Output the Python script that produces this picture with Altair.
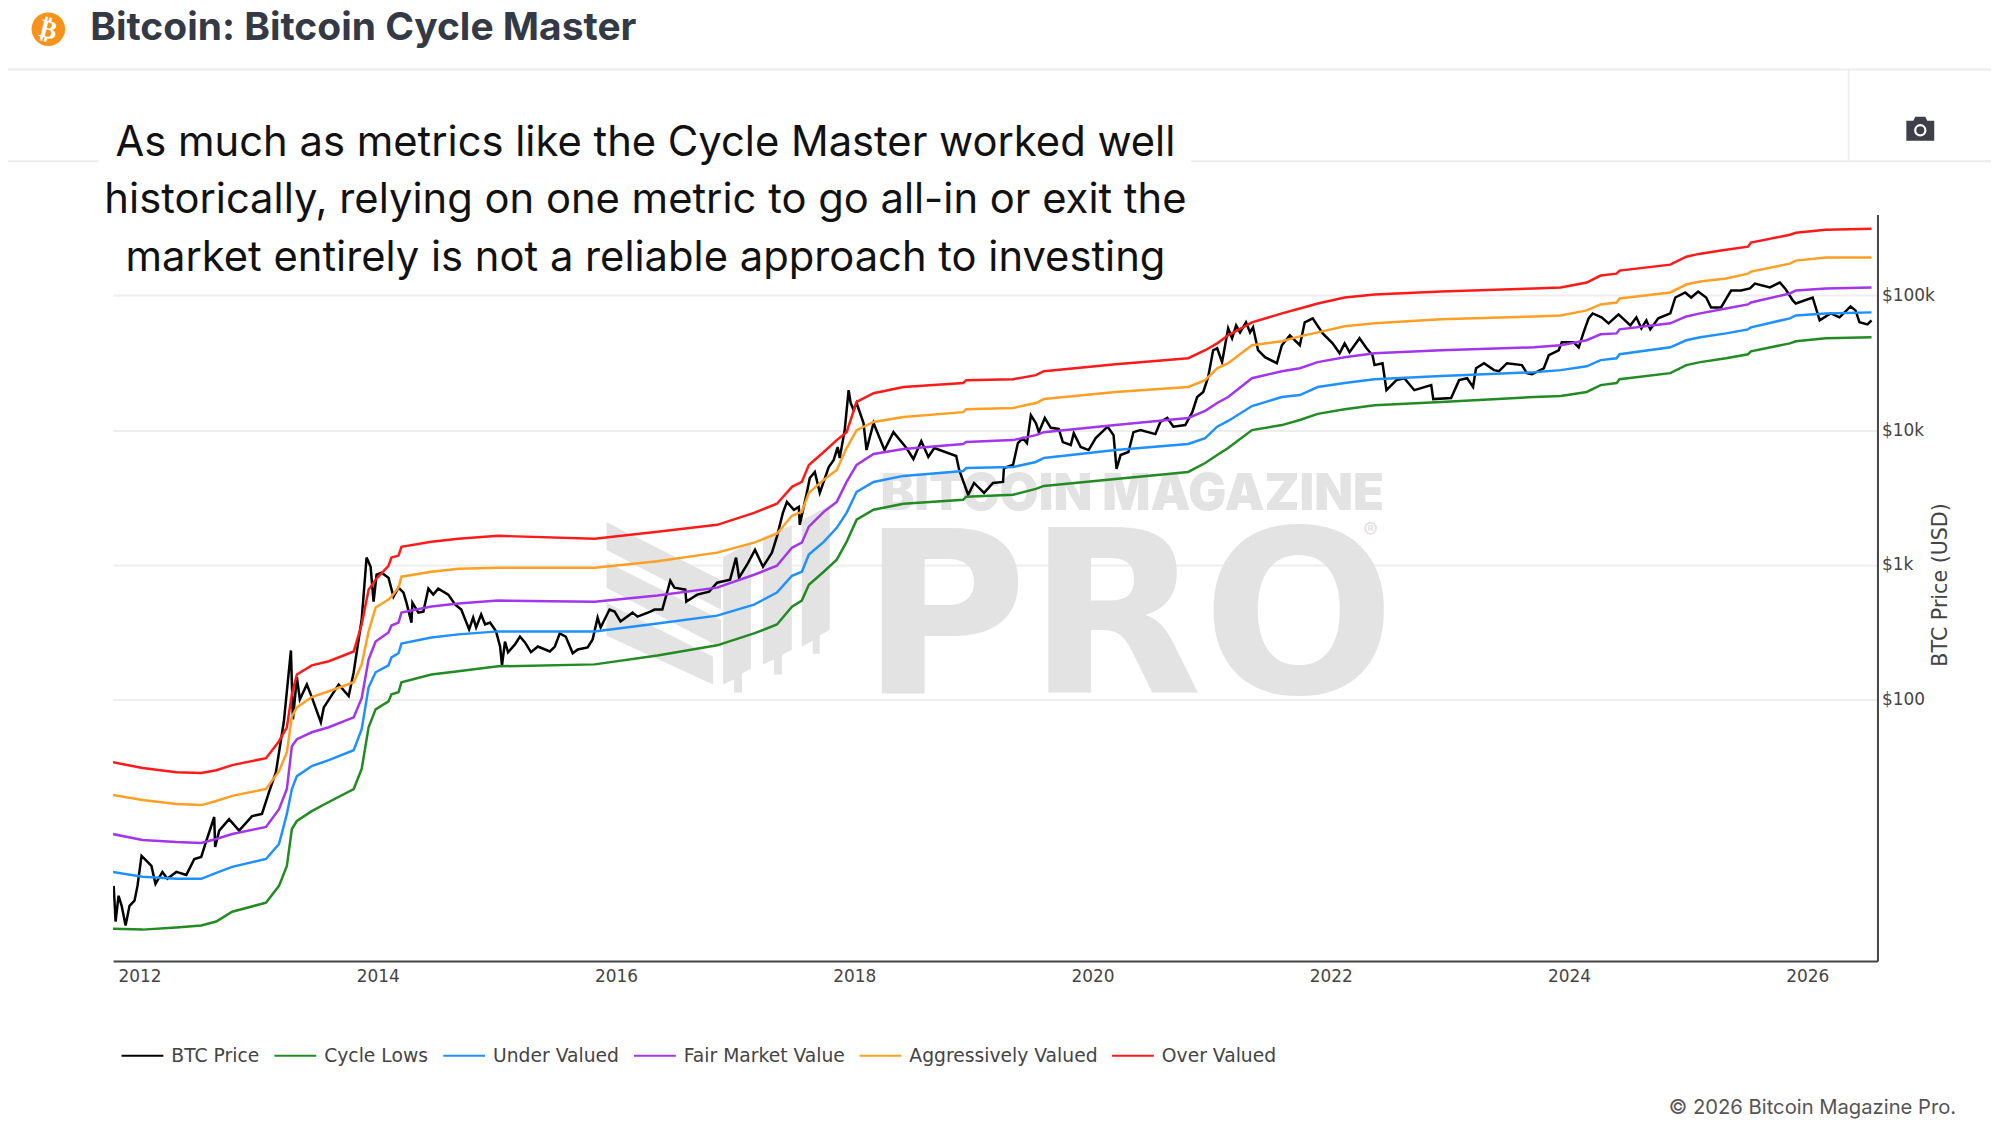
import altair as alt
import pandas as pd

# ---- chart data ----
band_year = [2011.774,2012.025,2012.309,2012.518,2012.644,2012.778,2013.062,2013.171,2013.237,2013.279,
             2013.321,2013.446,2013.589,2013.798,2013.865,2013.923,2013.982,2014.09,2014.115,2014.174,
             2014.199,2014.45,2014.676,2015.01,2015.821,2016.348,2016.849,2017.159,2017.351,2017.477,
             2017.56,2017.619,2017.744,2017.853,2017.936,2018.02,2018.162,2018.413,2018.915,2018.94,
             2019.333,2019.525,2019.592,2020.194,2020.804,2020.946,2021.047,2021.139,2021.339,2021.59,
             2021.741,2021.891,2022.117,2022.368,2022.928,2023.706,2023.931,2024.149,2024.266,2024.4,
             2024.425,2024.851,2024.985,2025.102,2025.319,2025.503,2025.528,2025.855,2025.905,2026.156,
             2026.54]
over_valued = [34.2,30.9,28.8,28.4,29.8,32.5,36.6,48.9,62.1,109,
               153,179,192,227,360,653,775,983,1130,1170,
               1360,1480,1560,1640,1560,1760,1980,2430,2840,3790,
               4120,5510,6880,8430,9660,16200,18800,20900,22400,23500,
               23900,25600,27400,30900,34200,39200,44100,50600,63200,73600,
               80100,87200,96600,101700,107000,112700,114700,124800,140600,145300,
               153100,169500,194200,204500,218800,230400,246900,282500,292400,307700,
               312500]
aggressively_valued = [19.5,17.9,16.7,16.4,17.6,19.2,21.6,29.3,40.5,74.9,
                       87.2,104,115,134,182,320,481,551,580,676,
                       815,887,934,950,950,1060,1230,1460,1700,2310,
                       2470,3420,4270,5060,7360,10000,11500,12500,13600,14300,
                       14600,15900,17000,19200,20900,23500,28800,31400,42700,45700,
                       49700,53200,59000,62100,66500,69900,71100,77500,85800,88700,
                       95000,105300,120600,126900,133500,145300,150400,172400,181500,191200,
                       191200]
fair_market_value = [10.0,9.03,8.72,8.58,9.18,10.0,11.3,15.3,21.6,44.9,
                     50.6,57.0,62.1,73.6,102,198,269,314,354,372,
                     441,489,515,542,532,590,676,843,983,1340,
                     1460,1920,2470,2930,4120,5510,6650,7240,7880,8150,
                     8430,9180,9660,10900,12300,13900,15900,17600,24300,27400,
                     28800,32000,34800,37200,39200,41200,42700,46500,51500,52300,
                     56000,62100,69900,73600,80100,85800,88700,103500,108900,112700,
                     114700]
under_valued = [5.23,4.81,4.65,4.65,5.15,5.70,6.53,8.43,14.1,21.6,
                26.9,32.0,35.4,41.9,60.0,123,159,179,205,220,
                260,288,304,320,320,366,419,506,621,829,
                887,1190,1480,1880,2430,3480,4120,4570,4970,5230,
                5320,5800,6210,7110,7880,8720,10600,11700,15100,17600,
                18200,20900,22400,23900,25200,26900,27900,29800,33100,34200,
                36600,41200,46500,48900,52300,56000,58000,67600,71100,73600,
                74900]
cycle_lows = [1.98,1.95,2.02,2.09,2.24,2.65,3.09,4.12,5.80,10.9,
              12.5,14.8,17.3,21.6,30.4,62.1,84.3,96.6,109,113,
              134,153,162,176,182,212,252,309,360,489,
              542,711,887,1090,1480,2160,2560,2840,3040,3200,
              3310,3660,3850,4340,4890,5700,6530,7360,10000,10900,
              11900,13200,14300,15300,16200,17600,17900,19200,21600,22400,
              23900,26500,30400,32000,34200,36600,38500,44100,45700,48100,
              48900]

price_year = [2011.783,2011.799,2011.824,2011.85,2011.883,2011.916,2011.958,2011.983,2012.017,2012.059,
              2012.1,2012.134,2012.192,2012.234,2012.309,2012.393,2012.46,2012.518,2012.56,2012.594,
              2012.627,2012.635,2012.669,2012.752,2012.836,2012.945,2013.028,2013.087,2013.145,2013.212,
              2013.271,2013.288,2013.321,2013.346,2013.405,2013.446,2013.522,2013.547,2013.672,2013.756,
              2013.798,2013.814,2013.865,2013.906,2013.94,2013.965,2013.99,2014.032,2014.09,2014.132,
              2014.174,2014.216,2014.241,2014.283,2014.291,2014.341,2014.383,2014.425,2014.466,2014.508,
              2014.592,2014.65,2014.701,2014.767,2014.801,2014.826,2014.868,2014.901,2014.943,2014.993,
              2015.027,2015.043,2015.068,2015.094,2015.152,2015.194,2015.236,2015.286,2015.344,2015.445,
              2015.487,2015.528,2015.578,2015.637,2015.679,2015.762,2015.804,2015.846,2015.871,2015.946,
              2015.988,2016.038,2016.139,2016.18,2016.289,2016.323,2016.389,2016.456,2016.49,2016.582,
              2016.59,2016.682,2016.782,2016.849,2016.958,2017.008,2017.033,2017.1,2017.167,2017.234,
              2017.309,2017.351,2017.401,2017.435,2017.493,2017.535,2017.543,2017.602,2017.627,2017.669,
              2017.711,2017.786,2017.828,2017.861,2017.878,2017.92,2017.953,2017.97,2017.995,2018.02,
              2018.078,2018.103,2018.162,2018.254,2018.329,2018.438,2018.497,2018.563,2018.622,2018.672,
              2018.856,2018.881,2018.956,2019.006,2019.09,2019.165,2019.249,2019.257,2019.333,2019.374,
              2019.416,2019.45,2019.483,2019.525,2019.55,2019.6,2019.65,2019.717,2019.751,2019.818,
              2019.843,2019.901,2019.968,2020.027,2020.127,2020.177,2020.202,2020.236,2020.302,2020.344,
              2020.403,2020.528,2020.57,2020.628,2020.679,2020.779,2020.838,2020.879,2020.93,2020.971,
              2021.013,2021.047,2021.088,2021.139,2021.172,2021.206,2021.239,2021.289,2021.323,2021.348,
              2021.39,2021.448,2021.548,2021.59,2021.657,2021.741,2021.782,2021.849,2021.933,2022.016,
              2022.075,2022.117,2022.158,2022.242,2022.301,2022.351,2022.368,2022.435,2022.468,2022.552,
              2022.618,2022.702,2022.844,2022.861,2023.011,2023.078,2023.145,2023.195,2023.22,2023.287,
              2023.371,2023.413,2023.48,2023.605,2023.647,2023.689,2023.789,2023.831,2023.914,2023.94,
              2024.04,2024.082,2024.123,2024.165,2024.199,2024.274,2024.333,2024.416,2024.516,2024.566,
              2024.608,2024.65,2024.683,2024.75,2024.851,2024.893,2024.976,2025.026,2025.085,2025.152,
              2025.193,2025.277,2025.361,2025.444,2025.52,2025.561,2025.687,2025.771,2025.821,2025.879,
              2025.904,2026.046,2026.105,2026.197,2026.272,2026.364,2026.406,2026.439,2026.506,2026.54]
price_usd = [4.12,2.24,3.48,2.93,2.09,2.93,3.20,4.12,6.88,6.32,
             5.80,4.27,5.23,4.65,5.23,4.97,6.53,6.76,8.87,10.9,
             13.4,8.01,10.6,12.9,10.6,13.6,14.1,20.5,28.8,68.8,
             231,71.1,146,100,129,104,67.6,87.2,129,106,
             159,198,392,1130,966,532,843,872,801,580,
             676,621,523,372,523,441,449,665,600,665,
             600,506,465,331,405,342,427,360,372,320,
             247,179,269,224,256,293,265,224,247,227,
             247,309,293,220,235,243,279,405,342,465,
             449,379,441,412,449,465,465,761,676,653,
             532,600,632,736,775,1130,801,1000,1290,966,
             1230,1620,2430,2930,2560,2690,1980,3420,4410,4890,
             3420,5320,6000,7490,6210,10000,19800,15900,14100,15900,
             11300,7110,11300,7110,9660,7360,6100,8290,6320,7360,
             6420,5060,3310,4050,3420,4050,4120,5230,5510,8010,
             8720,8010,12900,11300,9660,12300,10400,10200,8150,7750,
             9500,7490,7110,8720,10600,9180,5150,6530,6880,9660,
             10000,9340,11500,12300,10600,10900,13600,17600,19200,24700,
             39200,40500,32000,57000,48100,60000,53200,63200,53200,58000,
             39200,34800,31400,42700,50600,42700,63200,67600,52300,44100,
             37200,44100,37900,48100,40500,36000,30400,31400,19800,23500,
             24300,19800,21600,17000,17300,23500,24300,20900,28800,31400,
             27900,27400,31400,30400,26500,26000,28800,36000,39200,44900,
             44900,41200,53200,67600,73600,68800,62100,72400,60000,68800,
             57000,65300,56000,67600,73600,96600,105300,96600,107000,96600,
             81500,81500,108900,108900,112700,122700,114700,124800,110700,91800,
             87200,96600,65300,73600,68800,82900,77500,63200,61000,65300]

series_names = ["BTC Price", "Cycle Lows", "Under Valued", "Fair Market Value", "Aggressively Valued", "Over Valued"]
series_colors = ["#000000", "#228b22", "#1e90ff", "#a335ea", "#ff9f24", "#ff1a1a"]
year_ticks = [2012, 2014, 2016, 2018, 2020, 2022, 2024, 2026]
price_ticks = [100, 1000, 10000, 100000]

FONT = "DejaVu Sans"
UI = "Inter"
WM = "#e3e3e3"
LEFT, TOP, W, H = 113.5, 213.0, 1771.5, 749.6

frames = [pd.DataFrame({"year": price_year, "usd": price_usd, "series": "BTC Price"})]
for name, vals in [("Cycle Lows", cycle_lows), ("Under Valued", under_valued),
                   ("Fair Market Value", fair_market_value),
                   ("Aggressively Valued", aggressively_valued), ("Over Valued", over_valued)]:
    frames.append(pd.DataFrame({"year": band_year, "usd": vals, "series": name}))
df = pd.concat(frames, ignore_index=True)


def px(v):
    return v - LEFT


def py(v):
    return v - TOP


def label(text, X, Y, size, font=UI, color="#111111", weight="normal", align="left", baseline="middle", angle=0):
    return alt.Chart(alt.InlineData(values=[{}])).mark_text(
        text=text, font=font, fontSize=size, color=color, fontWeight=weight,
        align=align, baseline=baseline, angle=angle).encode(x=alt.value(px(X)), y=alt.value(py(Y)))


def hline(X1, X2, Y, color="#ececec", width=2):
    return alt.Chart(alt.InlineData(values=[{}])).mark_rule(color=color, strokeWidth=width).encode(
        x=alt.value(px(X1)), x2=alt.value(px(X2)), y=alt.value(py(Y)))


def vline(X, Y1, Y2, color="#ececec", width=1.5):
    return alt.Chart(alt.InlineData(values=[{}])).mark_rule(color=color, strokeWidth=width).encode(
        x=alt.value(px(X)), y=alt.value(py(Y1)), y2=alt.value(py(Y2)))


def shape(points, color):
    d = "M" + "L".join(f"{a - LEFT:.1f},{b - TOP:.1f}" for a, b in points) + "Z"
    return alt.Chart(alt.InlineData(values=[{}])).mark_point(
        shape=d, size=4, filled=True, fill=color, stroke=None, strokeWidth=0, opacity=1
    ).encode(x=alt.value(0), y=alt.value(0))


def dot(X, Y, r, color):
    return alt.Chart(alt.InlineData(values=[{}])).mark_point(
        shape="circle", size=3.14159 * r * r, filled=True, fill=color, strokeWidth=0, opacity=1
    ).encode(x=alt.value(px(X)), y=alt.value(py(Y)))


logo_polys = [
    [(609, 522), (724, 580), (724, 610), (609, 550)],
    [(609, 562), (724, 620), (724, 648), (609, 588)],
    [(609, 603), (716, 657), (716, 685), (609, 636)],
    [(726, 557), (754, 542), (754, 669), (745, 674), (745, 693), (737, 693), (737, 680), (726, 685)],
    [(766, 537), (795, 525), (795, 650), (785, 655), (785, 675), (777, 675), (777, 660), (766, 665)],
    [(805, 520), (833, 505), (833, 630), (823, 636), (823, 654), (816, 654), (816, 641), (805, 647)],
]
camera = [(1914, 119), (1921, 119), (1923, 115), (1933, 115), (1935, 119), (1942, 119),
          (1942, 139), (1914, 139)]

chrome = [
    hline(LEFT - 8 - 106, 2000, 67.5),
    hline(LEFT - 8 - 106, 99, 159.5),
    hline(1196, 2000, 159.5),
    vline(1856, 67.5, 159.5),
]
chrome += [shape(p, WM) for p in logo_polys]
chrome += [
    label("BITCOIN MAGAZINE", 884, 510, 50.7, weight=900, color=WM, baseline="alphabetic"),
    label("PRO", 864.5, 693.7, 228, font=FONT, weight="bold", color=WM, baseline="alphabetic"),
    label("®", 1376, 531, 22, color=WM, align="center", weight=700),
]
chrome += [
    dot(48.5, 27, 19, "#f7931a"),
    label("₿", 48.5, 28, 26, font=FONT, color="#ffffff", weight="bold", align="center", angle=14),
    label("Bitcoin: Bitcoin Cycle Master", 90.5, 26, 39.1, weight=700, color="#343a45"),
    shape(camera, "#3d4047"),
    dot(1928, 128.5, 7, "#ffffff"),
    dot(1928, 128.5, 4.5, "#3d4047"),
    label("As much as metrics like the Cycle Master worked well", 648, 141.5, 41.9, align="center"),
    label("historically, relying on one metric to go all-in or exit the", 648, 199, 41.9, align="center"),
    label("market entirely is not a reliable approach to investing", 648, 256.5, 41.9, align="center"),
    label("© 2026 Bitcoin Magazine Pro.", 1964, 1110, 20.3, color="#555555", align="right"),
]

lines = alt.Chart(df).mark_line(strokeWidth=2.5, clip=True).encode(
    x=alt.X("year:Q",
            scale=alt.Scale(domain=[2011.778, 2026.59], nice=False, zero=False),
            axis=alt.Axis(values=year_ticks, format="d", title=None, grid=False, ticks=False,
                          labelFont=FONT, labelFontSize=17, labelColor="#444444", labelPadding=8,
                          domainColor="#444444", domainWidth=2, labelFlush=False)),
    y=alt.Y("usd:Q",
            scale=alt.Scale(type="log", domain=[1.14, 400000], nice=False),
            axis=alt.Axis(values=price_ticks, orient="right", title="BTC Price (USD)",
                          labelExpr="datum.value >= 1000 ? '$' + datum.value / 1000 + 'k' : '$' + datum.value",
                          grid=True, gridColor="#eeeeee", gridWidth=2, ticks=False,
                          labelFont=FONT, labelFontSize=17, labelColor="#444444", labelPadding=4,
                          titleFont=FONT, titleFontSize=20.7, titleFontWeight="normal", titleColor="#444444",
                          titleAngle=270, titlePadding=16, titleY=371.5,
                          domainColor="#444444", domainWidth=2)),
    color=alt.Color("series:N",
                    scale=alt.Scale(domain=series_names, range=series_colors),
                    legend=alt.Legend(title=None, orient="none", legendX=7.5, legendY=822.6,
                                      direction="horizontal", columns=6, columnPadding=10.5,
                                      symbolType="stroke", symbolSize=1764, symbolStrokeWidth=2,
                                      labelFont=FONT, labelFontSize=18.8, labelColor="#444444",
                                      labelOffset=7, labelLimit=400, padding=0)),
)

chart = alt.layer(*chrome, lines).properties(
    width=W, height=H,
    padding={"left": 105.5, "top": 205, "right": 114, "bottom": 161.4},
    autosize=alt.AutoSizeParams(type="none"),
    background="#ffffff",
).configure_view(stroke=None)

chart.save("out.html", embed_options={"renderer": "svg", "actions": False})
